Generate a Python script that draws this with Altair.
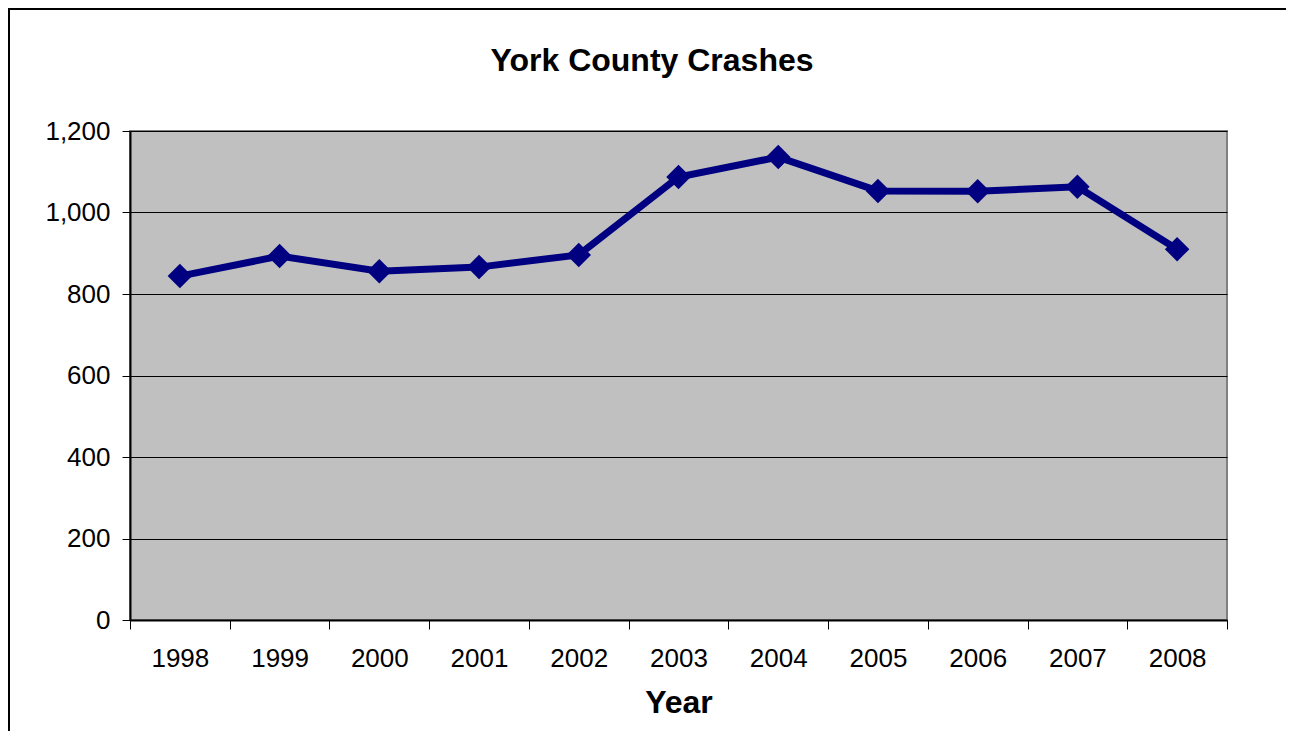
import altair as alt
import pandas as pd

years = ["1998", "1999", "2000", "2001", "2002", "2003", "2004", "2005", "2006", "2007", "2008"]
crashes = [844, 893, 856, 866, 896, 1087, 1136, 1053, 1052, 1063, 910]
chart_title = "York County Crashes"

df = pd.DataFrame({"Year": years, "Crashes": crashes})

W, H = 1097, 489
FONT = "Liberation Sans"

base = alt.Chart(df)

line = base.mark_line(color="#000080", strokeWidth=7).encode(
    x=alt.X("Year:N", sort=years,
            scale=alt.Scale(paddingInner=0, paddingOuter=0),
            axis=alt.Axis(title="Year", labelAngle=0, tickBand="extent",
                          labelFontSize=26, labelFont=FONT, labelColor="black",
                          titleFontSize=32, titleFont=FONT, titleFontWeight="bold",
                          titleColor="black", titlePadding=16,
                          tickSize=9, tickColor="black", domainColor="black",
                          domainWidth=2, labelPadding=16, grid=False)),
    y=alt.Y("Crashes:Q",
            scale=alt.Scale(domain=[0, 1200]),
            axis=alt.Axis(title=None, values=[0, 200, 400, 600, 800, 1000, 1200],
                          format=",d", labelFontSize=26, labelFont=FONT,
                          labelColor="black", tickSize=8, tickColor="black",
                          domainColor="black", domainWidth=2, labelPadding=12,
                          grid=True, gridColor="black", gridWidth=1)),
)

points = base.mark_point(shape="diamond", filled=True, color="#000080",
                         size=600, opacity=1).encode(
    x=alt.X("Year:N", sort=years),
    y="Crashes:Q",
)

frame_df = pd.DataFrame({"label": [chart_title]})
frame_top = alt.Chart(frame_df).mark_rule(color="black", strokeWidth=2).encode(
    x=alt.value(-122), x2=alt.value(W + 80), y=alt.value(-122))
frame_left = alt.Chart(frame_df).mark_rule(color="black", strokeWidth=2).encode(
    x=alt.value(-121), y=alt.value(-123), y2=alt.value(H + 130))

title_text = alt.Chart(frame_df).mark_text(
    font=FONT, fontSize=32, fontWeight="bold", color="black",
    align="center", baseline="middle"
).encode(text="label:N", x=alt.value(522), y=alt.value(-70))

chart = alt.layer(line, points, frame_top, frame_left, title_text).properties(
    width=W, height=H,
    padding={"left": 122, "top": 123, "right": 59, "bottom": 111},
    autosize=alt.AutoSizeParams(type="none"),
    background="white",
).configure_view(
    fill="#C0C0C0", stroke="#808080", strokeWidth=2
)

chart.save("out.html", embed_options={"renderer": "svg", "actions": False})
